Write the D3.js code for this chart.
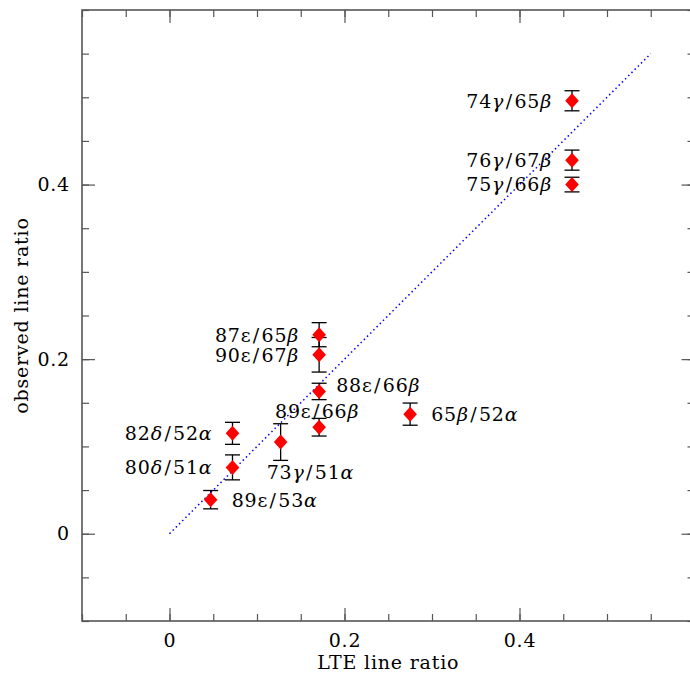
<!DOCTYPE html>
<html>
<head>
<meta charset="utf-8">
<script src="https://cdn.jsdelivr.net/npm/d3@7"></script>
<style>
  body { margin: 0; background: #fff; }
  text { font-family: "DejaVu Serif", serif; fill: #000; }
</style>
</head>
<body>
<svg></svg>
<script>
// line pair, LTE ratio (x), observed ratio (y), error on observed ratio
const labels   = ["74γ/65β", "76γ/67β", "75γ/66β", "87ε/65β", "90ε/67β", "88ε/66β",
                  "89ε/66β", "65β/52α", "82δ/52α", "80δ/51α", "73γ/51α", "89ε/53α"];
const lteRatio = [0.460, 0.460, 0.460, 0.171, 0.171, 0.171, 0.171, 0.275, 0.072, 0.072, 0.127, 0.047];
const obsRatio = [0.496, 0.428, 0.400, 0.228, 0.205, 0.163, 0.122, 0.137, 0.115, 0.076, 0.105, 0.039];
const obsErr   = [0.0115, 0.0115, 0.0084, 0.0138, 0.0198, 0.0094, 0.0101, 0.0127, 0.0126, 0.0143, 0.021, 0.0105];

const majorTicks = [0, 0.2, 0.4];
const minorTicks = d3.range(-0.1, 0.6001, 0.05).map(v => +v.toFixed(2));
const oneToOne = [[0, 0], [0.55, 0.55]];

(function (d3) {
    const width = 690, height = 675;
    const svg = d3.select('svg').attr('width', width).attr('height', height);

    const x = d3.scaleLinear().domain([-0.1, 0.6]).range([82, 694.5]);
    const y = d3.scaleLinear().domain([-0.1, 0.6]).range([621, 10]);
    const frameColor = '#555';
    const fontSize = '19px', spacing = '0.8px';

    // ==================================================
    // frame and ticks on all four sides

    function tickAxis(axisFn, scale, translate, values, size, labelled) {
        const ax = axisFn(scale).tickValues(values).tickSizeInner(-size).tickSizeOuter(0)
              .tickPadding(labelled ? 13 : 0)
              .tickFormat(labelled ? (d => d === 0 ? '0' : d3.format('.1f')(d)) : '');
        const g = svg.append('g').attr('transform', translate).call(ax);
        g.select('.domain').remove();
        g.selectAll('line').attr('stroke', frameColor).attr('stroke-width', 1.2);
        g.selectAll('text').style('font-family', '"DejaVu Serif", serif')
            .style('font-size', fontSize).style('letter-spacing', spacing).attr('fill', '#000');
        return g;
    }

    const [x0, x1] = x.range(), [y0, y1] = y.range();
    tickAxis(d3.axisBottom, x, `translate(0,${y0})`, minorTicks, 7, false);
    tickAxis(d3.axisBottom, x, `translate(0,${y0})`, majorTicks, 13, true);
    tickAxis(d3.axisTop, x, `translate(0,${y1})`, minorTicks, 7, false);
    tickAxis(d3.axisTop, x, `translate(0,${y1})`, majorTicks, 13, false);
    tickAxis(d3.axisLeft, y, `translate(${x0},0)`, minorTicks, 7, false);
    const yl = tickAxis(d3.axisLeft, y, `translate(${x0},0)`, majorTicks, 13, true);
    yl.selectAll('text').attr('x', -12);
    tickAxis(d3.axisRight, y, `translate(${x1},0)`, minorTicks, 7, false);
    tickAxis(d3.axisRight, y, `translate(${x1},0)`, majorTicks, 13, false);

    svg.append('rect')
        .attr('x', x0).attr('y', y1).attr('width', x1 - x0).attr('height', y0 - y1)
        .attr('fill', 'none').attr('stroke', frameColor).attr('stroke-width', 1.6);

    // axis titles
    svg.append('text')
        .attr('x', (x0 + x1) / 2).attr('y', 669)
        .attr('text-anchor', 'middle')
        .style('font-size', fontSize).style('letter-spacing', spacing)
        .text('LTE line ratio');
    svg.append('text')
        .attr('transform', `translate(28,${(y0 + y1) / 2}) rotate(-90)`)
        .attr('text-anchor', 'middle')
        .style('font-size', fontSize).style('letter-spacing', spacing)
        .text('observed line ratio');

    // ==================================================
    // 1:1 line

    svg.append('path')
        .attr('d', d3.line().x(d => x(d[0])).y(d => y(d[1]))(oneToOne))
        .attr('fill', 'none').attr('stroke', '#0000ff')
        .attr('stroke-width', 1.5).attr('stroke-dasharray', '1.5,3');

    // ==================================================
    // points with error bars

    const pts = labels.map((l, i) => ({ label: l, x: lteRatio[i], y: obsRatio[i], e: obsErr[i] }));
    const cap = 7.5;

    const eb = svg.append('g').attr('stroke', '#000').attr('stroke-width', 1.3);
    pts.forEach(d => {
        const cx = x(d.x), ylo = y(d.y - d.e), yhi = y(d.y + d.e);
        eb.append('line').attr('x1', cx).attr('x2', cx).attr('y1', ylo).attr('y2', yhi);
        eb.append('line').attr('x1', cx - cap).attr('x2', cx + cap).attr('y1', ylo).attr('y2', ylo);
        eb.append('line').attr('x1', cx - cap).attr('x2', cx + cap).attr('y1', yhi).attr('y2', yhi);
    });

    svg.append('g').selectAll('path').data(pts).join('path')
        .attr('transform', d => `translate(${x(d.x)},${y(d.y)})`)
        .attr('d', 'M0,-7.5L6.8,0L0,7.5L-6.8,0Z')
        .attr('fill', '#ff0000');

    // ==================================================
    // labels

    // where each label sits relative to its point
    const place = {
        "88ε/66β": { anchor: 'start', dx: 17, dy: -6 },
        "89ε/66β": { anchor: 'middle', dx: -2, dy: -16 },
        "73γ/51α": { anchor: 'start', dx: -14, dy: 30 },
        "65β/52α": { anchor: 'start', dx: 21, dy: 0 },
        "89ε/53α": { anchor: 'start', dx: 21, dy: 0 }
    };
    const leftPlace = { anchor: 'end', dx: -20, dy: 0 };

    pts.forEach(d => {
        const p = place[d.label] || leftPlace;
        const t = svg.append('text')
            .attr('x', x(d.x) + p.dx).attr('y', y(d.y) + p.dy)
            .attr('dy', '0.36em')
            .attr('text-anchor', p.anchor)
            .style('font-size', fontSize).style('letter-spacing', spacing);
        // italic greek, except the epsilon which is upright
        Array.from(d.label).forEach((ch, i, arr) => {
            const s = t.append('tspan').text(ch);
            if ('γβδα'.includes(ch)) s.style('font-style', 'italic');
            if (ch === '/' || arr[i - 1] === '/') s.attr('dx', 1.5);
        });
    });
})(d3);
</script>
</body>
</html>
